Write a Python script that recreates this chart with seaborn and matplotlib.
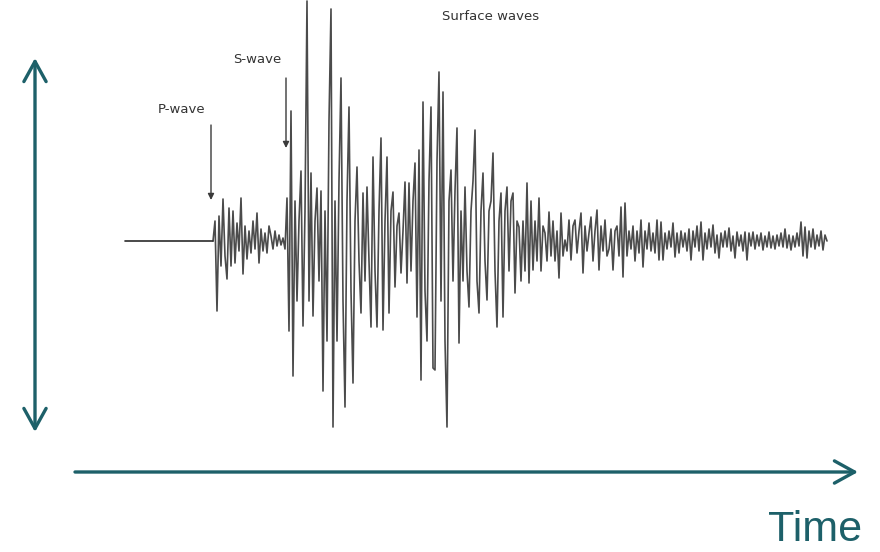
import matplotlib
matplotlib.use("Agg")
import matplotlib.pyplot as plt
import numpy as np
import pandas as pd
import seaborn as sns

# ── Data: seismogram trace ───────────────────────────────────────────────────
# quiet trace before the first arrival (time, amplitude)
quiet_time = [125, 213]
quiet_amp = [0, 0]

# trace from the P arrival on, one reading every 2 time units from t=213
trace_start = 213
trace_step = 2
trace_amp = [
    0, 20, -70, 25, -25, 42, -15, -38, 33, -25,          # 213
    30, -22, 18, -10, 43, -33, 15, -18, 10, -12,         # 233
    20, -8, 28, -22, 12, -10, 8, -12, 15, 5,             # 253
    -8, 10, -5, 6, -4, 3, -8, 43, -90, 130,              # 273
    -135, 40, -60, 20, 70, -85, 30, 240, -60, 68,        # 293
    -75, 20, 53, -40, 50, -150, 30, -100, 120, 232,      # 313
    -186, 40, -100, 60, 163, -60, -166, 40, 134, -50,    # 333
    -142, 20, 74, -20, -72, 48, -40, 54, -20, -86,       # 353
    84, -30, -86, 30, 103, -89, 20, 84, -72, 30,         # 373
    49, -46, 15, 28, -32, 10, 59, -42, 58, -30,          # 393
    40, 78, -76, 91, -139, 139, -50, -100, 60, 134,      # 413
    -127, -129, 80, 169, -60, 149, -100, -186, 40, 71,   # 433
    -40, 50, 113, -102, 30, -40, 54, -30, -66, 30,       # 453
    60, 111, -40, -72, 30, 68, -20, -59, 30, 40,         # 473
    88, -30, -86, 20, 48, -76, 30, 54, -30, 40,          # 493
    48, -52, 20, 14, -40, 20, -30, 58, -42, 40,          # 513
    -29, 20, -20, 43, -30, 15, 8, -20, 29, -15,          # 533
    20, -20, 10, -37, 28, -15, 1, -10, 21, -19,          # 553
    15, 21, -12, 10, 28, -32, 15, -10, 8, 24,            # 573
    -20, 10, 31, -29, 15, -10, 21, -15, -8, 12,          # 593
    -29, 10, 15, -15, 34, -36, 38, -15, 10, -8,          # 613
    15, -20, 10, -12, 21, -26, 10, -8, 18, -10,          # 633
    8, -12, 21, -19, 19, -19, 8, -8, 10, -6,             # 653
    18, -16, 8, -12, 10, -6, 8, -10, 12, -19,            # 673
    10, -6, 15, -10, 19, -19, 8, -8, 12, -6,             # 693
    16, -12, 6, -17, 8, -6, 10, -6, 13, -10,             # 713
    5, -17, 9, -5, 6, -10, 9, -19, 8, -5,                # 733
    9, -8, 6, -5, 8, -9, 5, -6, 9, -7,                   # 753
    5, -8, 6, -5, 8, -6, 12, -7, 6, -9,                  # 773
    5, -6, 8, -5, 19, -15, 14, -17, 10, -6,              # 793
    12, -8, 6, -5, 10, -9, 6, 0,                         # 813
]

phase_labels = ["P-wave", "S-wave", "Surface waves"]
phase_label_pos = [(182, 131), (257, 181), (491, 225)]
phase_arrow_time = [211, 286]

TEAL = "#1d6069"
INK = "#2b2b2b"

# ── Figure ───────────────────────────────────────────────────────────────────
sns.set_theme(style="white")
plt.rcParams["font.family"] = ["Liberation Sans", "DejaVu Sans"]

fig = plt.figure(figsize=(8.8, 5.52), dpi=100)
ax = fig.add_axes([0, 0, 1, 1])

trace = pd.DataFrame({
    "time": trace_start + trace_step * np.arange(len(trace_amp)),
    "amp": trace_amp,
})
quiet = pd.DataFrame({"time": quiet_time, "amp": quiet_amp})

sns.lineplot(data=quiet, x="time", y="amp", ax=ax, color=INK, lw=1.2,
             sort=False, estimator=None)
sns.lineplot(data=trace, x="time", y="amp", ax=ax, color=INK, lw=1.2,
             alpha=0.85, sort=False, estimator=None)

ax.set_xlim(0, 880)
ax.set_ylim(-311, 241)
ax.axis("off")

# phase labels and their little arrows
for label, (x, y) in zip(phase_labels, phase_label_pos):
    ax.text(x, y, label, ha="center", va="center", fontsize=9.5,
            color="#333333", family="DejaVu Sans")

small_arrow = dict(arrowstyle="-|>", color="#3a3a3a", lw=1.0,
                   mutation_scale=9, shrinkA=0, shrinkB=0)
ax.annotate("", xy=(phase_arrow_time[0], 41), xytext=(phase_arrow_time[0], 116),
            arrowprops=small_arrow)
ax.annotate("", xy=(phase_arrow_time[1], 93), xytext=(phase_arrow_time[1], 163),
            arrowprops=small_arrow)

# ── Teal amplitude / time arrows (pixel overlay) ────────────────────────────
ov = fig.add_axes([0, 0, 1, 1], facecolor="none")
ov.set_xlim(0, 880)
ov.set_ylim(552, 0)
ov.axis("off")

teal_arrow = dict(arrowstyle="<->,head_length=1.45,head_width=0.8",
                  color=TEAL, lw=2.4, mutation_scale=10,
                  shrinkA=0, shrinkB=0, capstyle="round", joinstyle="round")
ov.annotate("", xy=(35, 58), xytext=(35, 432), arrowprops=teal_arrow)

time_arrow = dict(teal_arrow, arrowstyle="->,head_length=1.45,head_width=0.8")
ov.annotate("", xy=(858, 472), xytext=(75, 472), arrowprops=time_arrow)

ov.text(862, 541, "Time", ha="right", va="baseline", fontsize=31, color=TEAL)

fig.savefig("out.png", dpi=100)
